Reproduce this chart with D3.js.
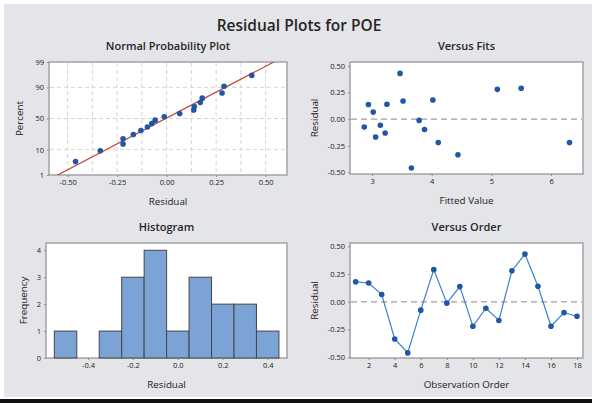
<!DOCTYPE html>
<html>
<head>
<meta charset="utf-8">
<script src="https://cdn.jsdelivr.net/npm/d3@7"></script>
<style>
  body { margin: 0; background: #fff; }
  svg { display: block; font-family: "Open Sans", sans-serif; }
  .tick text { font-family: "Open Sans", sans-serif; font-size: 7.5px; fill: #222; }
  .tick line { stroke: #8c8c8c; }
  .frame { fill: #fff; stroke: #a3a3a3; stroke-width: 1.5; }
  .grid { stroke: #d4d4d4; stroke-dasharray: 4,3; }
  .zero { stroke: #9d9d9d; stroke-dasharray: 6,4; stroke-width: 1.3; }
  .main-title { font-size: 15.5px; font-weight: 600; fill: #262626; text-anchor: middle; }
  .panel-title { font-size: 11px; font-weight: 600; fill: #262626; text-anchor: middle; }
  .axis-label { font-size: 9.8px; font-weight: 400; fill: #222; text-anchor: middle; }
</style>
</head>
<body>
<div id="chart"></div>
<script>

// data

const observations = [1, 2, 3, 4, 5, 6, 7, 8, 9, 10, 11, 12, 13, 14, 15, 16, 17, 18]
const residuals = [0.18, 0.17, 0.066, -0.335, -0.46, -0.075, 0.29, -0.012, 0.137, -0.22, -0.058, -0.168, 0.28, 0.43, 0.14, -0.22, -0.097, -0.13]
const fittedValues = [4.02, 3.52, 3.02, 4.44, 3.66, 2.87, 5.50, 3.79, 2.94, 4.11, 3.14, 3.06, 5.10, 3.47, 3.25, 6.31, 3.88, 3.22]

const binEdges = [-0.55, -0.45, -0.35, -0.25, -0.15, -0.05, 0.05, 0.15, 0.25, 0.35, 0.45]

const percentTicks = [1, 10, 50, 90, 99]
const percentGrid = [10, 50, 90]
const nppResidualTicks = [-0.5, -0.25, 0, 0.25, 0.5]
const nppResidualGrid = [-0.5, -0.375, -0.25, -0.125, 0, 0.125, 0.25, 0.375, 0.5]
const residualTicks = [-0.5, -0.25, 0, 0.25, 0.5]
const fitTicks = [3, 4, 5, 6]
const histTicks = [-0.4, -0.2, 0, 0.2, 0.4]
const frequencyTicks = [0, 1, 2, 3, 4]
const orderTicks = [2, 4, 6, 8, 10, 12, 14, 16, 18]


// inverse normal cdf (Acklam)
function qnorm(p) {
  const a = [-3.969683028665376e+01, 2.209460984245205e+02, -2.759285104469687e+02, 1.383577518672690e+02, -3.066479806614716e+01, 2.506628277459239e+00]
  const b = [-5.447609879822406e+01, 1.615858368580409e+02, -1.556989798598866e+02, 6.680131188771972e+01, -1.328068155288572e+01]
  const c = [-7.784894002430293e-03, -3.223964580411365e-01, -2.400758277161838e+00, -2.549732539343734e+00, 4.374664141464968e+00, 2.938163982698783e+00]
  const d = [7.784695709041462e-03, 3.224671290700398e-01, 2.445134137142996e+00, 3.754408661907416e+00]
  const pl = 0.02425
  let q, r
  if (p < pl) {
    q = Math.sqrt(-2 * Math.log(p))
    return (((((c[0]*q+c[1])*q+c[2])*q+c[3])*q+c[4])*q+c[5]) / ((((d[0]*q+d[1])*q+d[2])*q+d[3])*q+1)
  }
  if (p > 1 - pl) {
    q = Math.sqrt(-2 * Math.log(1 - p))
    return -(((((c[0]*q+c[1])*q+c[2])*q+c[3])*q+c[4])*q+c[5]) / ((((d[0]*q+d[1])*q+d[2])*q+d[3])*q+1)
  }
  q = p - 0.5
  r = q * q
  return (((((a[0]*r+a[1])*r+a[2])*r+a[3])*r+a[4])*r+a[5])*q / (((((b[0]*r+b[1])*r+b[2])*r+b[3])*r+b[4])*r+1)
}

const hyphen = f => d => f(d).replace("\u2212", "-")
const f2 = hyphen(d3.format(".2f"))
const f1 = hyphen(d3.format(".1f"))

const ptColor = "#1f56a6"
const ptR = 2.8


// draw canvas

const width = 592
const height = 403

const svg = d3.select("#chart")
  .append("svg")
    .attr("width", width)
    .attr("height", height)

svg.append("rect")
    .attr("x", 4).attr("y", 4)
    .attr("width", width - 4).attr("height", 393)
    .attr("fill", "#e4e5e8")

svg.append("rect")
    .attr("x", 0).attr("y", 399)
    .attr("width", width).attr("height", 4)
    .attr("fill", "#111")

svg.append("text")
    .attr("class", "main-title")
    .attr("x", 299).attr("y", 31)
    .text("Residual Plots for POE")


// panel boxes
const boxes = {
  npp:   { left: 49,  right: 287, top: 62,  bottom: 175 },
  fits:  { left: 350, right: 583, top: 62,  bottom: 174 },
  hist:  { left: 46,  right: 287, top: 243, bottom: 358 },
  order: { left: 350, right: 583, top: 243, bottom: 358 },
}

function drawFrame(b, id) {
  svg.append("rect")
      .attr("class", "frame")
      .attr("x", b.left).attr("y", b.top)
      .attr("width", b.right - b.left).attr("height", b.bottom - b.top)
  svg.append("clipPath").attr("id", id)
    .append("rect")
      .attr("x", b.left).attr("y", b.top)
      .attr("width", b.right - b.left).attr("height", b.bottom - b.top)
}

function drawAxes(b, xScale, yScale, xTicks, yTicks, xFmt, yFmt) {
  const xAxis = svg.append("g")
      .attr("transform", `translate(0,${b.bottom})`)
      .call(d3.axisBottom(xScale).tickValues(xTicks).tickFormat(xFmt).tickSize(2).tickPadding(3))
  xAxis.select(".domain").remove()

  const yAxis = svg.append("g")
      .attr("transform", `translate(${b.left},0)`)
      .call(d3.axisLeft(yScale).tickValues(yTicks).tickFormat(yFmt).tickSize(2).tickPadding(3))
  yAxis.select(".domain").remove()
}

function drawLabels(b, title, xLabel, yLabel, yLabelX) {
  const cx = (b.left + b.right) / 2
  svg.append("text").attr("class", "panel-title")
      .attr("x", cx).attr("y", b.top - 12)
      .text(title)
  svg.append("text").attr("class", "axis-label")
      .attr("x", cx).attr("y", b.bottom + 30)
      .text(xLabel)
  svg.append("text").attr("class", "axis-label")
      .attr("transform", `translate(${yLabelX},${(b.top + b.bottom) / 2}) rotate(-90)`)
      .text(yLabel)
}


// 1. normal probability plot

{
  const b = boxes.npp
  drawFrame(b, "clip-npp")

  const xScale = d3.scaleLinear().domain([-0.594, 0.608]).range([b.left, b.right])
  const yScale = d3.scaleLinear().domain([qnorm(0.01), qnorm(0.99)]).range([b.bottom, b.top])

  svg.append("g").selectAll("line")
    .data(nppResidualGrid)
    .join("line")
      .attr("class", "grid")
      .attr("x1", d => xScale(d)).attr("x2", d => xScale(d))
      .attr("y1", b.top + 1).attr("y2", b.bottom - 1)

  svg.append("g").selectAll("line")
    .data(percentGrid)
    .join("line")
      .attr("class", "grid")
      .attr("y1", d => yScale(qnorm(d / 100))).attr("y2", d => yScale(qnorm(d / 100)))
      .attr("x1", b.left + 1).attr("x2", b.right - 1)

  const n = residuals.length
  const sorted = residuals.slice().sort(d3.ascending)
  const pts = sorted.map((r, i) => ({ r, z: qnorm((i + 1 - 0.3) / (n + 0.4)) }))

  const mean = d3.mean(residuals)
  const sd = d3.deviation(residuals)
  const zs = [qnorm(0.005), qnorm(0.995)]

  svg.append("line")
      .attr("clip-path", "url(#clip-npp)")
      .attr("x1", xScale(mean + sd * zs[0])).attr("y1", yScale(zs[0]))
      .attr("x2", xScale(mean + sd * zs[1])).attr("y2", yScale(zs[1]))
      .attr("stroke", "#c8463a")
      .attr("stroke-width", 1.2)

  svg.append("g").selectAll("circle")
    .data(pts)
    .join("circle")
      .attr("cx", d => xScale(d.r))
      .attr("cy", d => yScale(d.z))
      .attr("r", ptR)
      .attr("fill", ptColor)

  drawAxes(b, xScale, yScale, nppResidualTicks, percentTicks.map(p => qnorm(p / 100)), f2, (d, i) => percentTicks[i])
  drawLabels(b, "Normal Probability Plot", "Residual", "Percent", 23)
}


// 2. versus fits

{
  const b = boxes.fits
  drawFrame(b, "clip-fits")

  const xScale = d3.scaleLinear().domain([2.631, 6.536]).range([b.left, b.right])
  const yScale = d3.scaleLinear().domain([-0.516, 0.537]).range([b.bottom, b.top])

  svg.append("line")
      .attr("class", "zero")
      .attr("x1", b.left + 1).attr("x2", b.right - 1)
      .attr("y1", yScale(0)).attr("y2", yScale(0))

  svg.append("g").selectAll("circle")
    .data(fittedValues)
    .join("circle")
      .attr("cx", d => xScale(d))
      .attr("cy", (d, i) => yScale(residuals[i]))
      .attr("r", ptR)
      .attr("fill", ptColor)

  drawAxes(b, xScale, yScale, fitTicks, residualTicks, d3.format("d"), f2)
  drawLabels(b, "Versus Fits", "Fitted Value", "Residual", 318)
}


// 3. histogram

{
  const b = boxes.hist
  drawFrame(b, "clip-hist")

  const xScale = d3.scaleLinear().domain([-0.587, 0.486]).range([b.left, b.right])
  const yScale = d3.scaleLinear().domain([0, 4.27]).range([b.bottom, b.top])

  const bins = d3.bin()
      .domain([binEdges[0], binEdges[binEdges.length - 1]])
      .thresholds(binEdges.slice(1, -1))(residuals)

  svg.append("g").selectAll("rect")
    .data(bins.filter(d => d.length > 0))
    .join("rect")
      .attr("x", d => xScale(d.x0))
      .attr("width", d => xScale(d.x1) - xScale(d.x0))
      .attr("y", d => yScale(d.length))
      .attr("height", d => yScale(0) - yScale(d.length))
      .attr("fill", "#7ba3d6")
      .attr("stroke", "#454545")
      .attr("stroke-width", 1)

  drawAxes(b, xScale, yScale, histTicks, frequencyTicks, f1, d3.format("d"))
  drawLabels(b, "Histogram", "Residual", "Frequency", 27)
}


// 4. versus order

{
  const b = boxes.order
  drawFrame(b, "clip-order")

  const xScale = d3.scaleLinear().domain([0.565, 18.46]).range([b.left, b.right])
  const yScale = d3.scaleLinear().domain([-0.506, 0.53]).range([b.bottom, b.top])

  svg.append("line")
      .attr("class", "zero")
      .attr("x1", b.left + 1).attr("x2", b.right - 1)
      .attr("y1", yScale(0)).attr("y2", yScale(0))

  const line = d3.line()
      .x((d, i) => xScale(observations[i]))
      .y(d => yScale(d))

  svg.append("path")
      .datum(residuals)
      .attr("d", line)
      .attr("fill", "none")
      .attr("stroke", "#3d80d0")
      .attr("stroke-width", 1.2)

  svg.append("g").selectAll("circle")
    .data(residuals)
    .join("circle")
      .attr("cx", (d, i) => xScale(observations[i]))
      .attr("cy", d => yScale(d))
      .attr("r", ptR)
      .attr("fill", ptColor)

  drawAxes(b, xScale, yScale, orderTicks, residualTicks, d3.format("d"), f2)
  drawLabels(b, "Versus Order", "Observation Order", "Residual", 318)
}

</script>
</body>
</html>
